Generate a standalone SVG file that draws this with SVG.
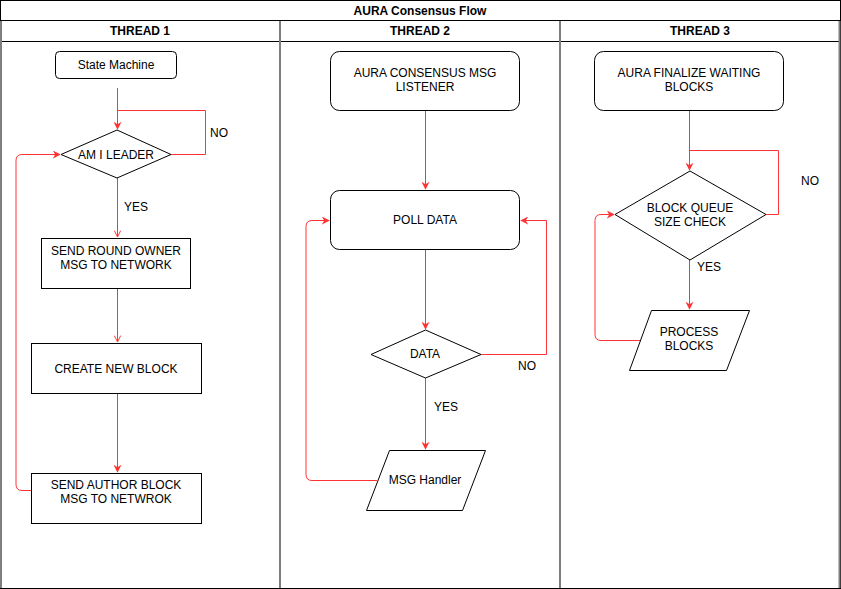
<svg xmlns="http://www.w3.org/2000/svg" width="841" height="589" viewBox="0 0 841 589">
<style>
text{font-family:"Liberation Sans",Arial,sans-serif;font-size:12px;fill:#000;text-anchor:middle;dominant-baseline:central}
.b{font-weight:bold}
.n{fill:#fff;stroke:#000;stroke-width:1}
.lane{fill:none;stroke:#000;stroke-width:1}
.sep{stroke:#7f7f7f;stroke-width:2}
.c{fill:none;stroke:#ff3333;stroke-width:1}
</style>
<defs>
<marker id="af" viewBox="0 0 10 10" refX="9" refY="5" markerWidth="8" markerHeight="8" markerUnits="userSpaceOnUse" orient="auto"><path d="M0,0 L10,5 L0,10 L3,5 Z" fill="#ff3333"/></marker>
<marker id="ao" viewBox="0 0 10 10" refX="9" refY="5" markerWidth="8" markerHeight="8" markerUnits="userSpaceOnUse" orient="auto"><path d="M1,1 L9,5 L1,9" fill="none" stroke="#ff3333" stroke-width="1.2"/></marker>
</defs>
<rect width="841" height="589" fill="#fff"/>
<g id="pool">
<rect x="0.5" y="0.5" width="840" height="588" class="lane"/>
<line x1="1" y1="20.5" x2="840" y2="20.5" stroke="#000"/>
<line x1="1" y1="41.5" x2="840" y2="41.5" stroke="#000"/>
<line x1="280" y1="21" x2="280" y2="588" class="sep"/>
<line x1="560" y1="21" x2="560" y2="588" class="sep"/>
<line x1="1" y1="21" x2="1" y2="588" class="sep"/>
<line x1="839.5" y1="21" x2="839.5" y2="588" class="sep"/>
<text x="420" y="10.5" class="b">AURA Consensus Flow</text>
<text x="140" y="31" class="b">THREAD 1</text>
<text x="420" y="31" class="b">THREAD 2</text>
<text x="700" y="31" class="b">THREAD 3</text>
</g>
<g id="connectors">
<path class="c" d="M117.5,88 V129" marker-end="url(#af)"/>
<path class="c" d="M171,154.5 H205.5 V110.5 H117.5"/>
<path class="c" d="M117.5,178 V237" marker-end="url(#ao)"/>
<path class="c" d="M117.5,289 V342" marker-end="url(#ao)"/>
<path class="c" d="M117.5,393 V472" marker-end="url(#af)"/>
<path class="c" d="M31,490.5 H22 Q16,490.5 16,484.5 V160.5 Q16,154.5 22,154.5 H60" marker-end="url(#af)"/>
<path class="c" d="M425.5,110 V189" marker-end="url(#af)"/>
<path class="c" d="M425.5,250 V329" marker-end="url(#af)"/>
<path class="c" d="M481,354.5 H546.5 V220.5 H521" marker-end="url(#af)"/>
<path class="c" d="M425.5,378 V449" marker-end="url(#af)"/>
<path class="c" d="M377,480.5 H312 Q306,480.5 306,474.5 V226.5 Q306,220.5 312,220.5 H329" marker-end="url(#af)"/>
<path class="c" d="M689.5,110 V170" marker-end="url(#af)"/>
<path class="c" d="M766,214.5 H778.5 V150.5 H689.5"/>
<path class="c" d="M689.5,260 V309" marker-end="url(#af)"/>
<path class="c" d="M640,340.5 H601 Q595,340.5 595,334.5 V220.5 Q595,214.5 601,214.5 H614" marker-end="url(#af)"/>
<text x="219" y="133">NO</text>
<text x="136" y="207">YES</text>
<text x="527" y="366">NO</text>
<text x="446" y="407">YES</text>
<text x="810" y="181">NO</text>
<text x="709" y="267">YES</text>
</g>
<g id="state-machine">
<rect x="55.5" y="51.5" width="121" height="27" rx="4" class="n"/>
<text x="116" y="65">State Machine</text>
</g>
<g id="am-i-leader">
<path d="M61,154.5 L117,130 L171,154.5 L117,178 Z" class="n"/>
<text x="116" y="154.5">AM I LEADER</text>
</g>
<g id="send-round-owner">
<rect x="41.5" y="238.5" width="149" height="50" class="n"/>
<text x="116" y="251">SEND ROUND OWNER</text>
<text x="116" y="265">MSG TO NETWORK</text>
</g>
<g id="create-new-block">
<rect x="31.5" y="343.5" width="170" height="50" class="n"/>
<text x="116" y="368.5">CREATE NEW BLOCK</text>
</g>
<g id="send-author-block">
<rect x="31.5" y="473.5" width="170" height="50" class="n"/>
<text x="116" y="485">SEND AUTHOR BLOCK</text>
<text x="116" y="499">MSG TO NETWROK</text>
</g>
<g id="msg-listener">
<rect x="330.5" y="51.5" width="189" height="59" rx="9" class="n"/>
<text x="425" y="73">AURA CONSENSUS MSG</text>
<text x="425" y="87">LISTENER</text>
</g>
<g id="poll-data">
<rect x="330.5" y="190.5" width="189" height="59" rx="9" class="n"/>
<text x="425" y="220">POLL DATA</text>
</g>
<g id="data">
<path d="M371,354.5 L425.5,330 L481,354.5 L425.5,378 Z" class="n"/>
<text x="425" y="354">DATA</text>
</g>
<g id="msg-handler">
<path d="M389.5,450.5 H485.5 L462.5,510.5 H366.5 Z" class="n"/>
<text x="425" y="480">MSG Handler</text>
</g>
<g id="finalize-waiting">
<rect x="594.5" y="51.5" width="189" height="59" rx="9" class="n"/>
<text x="689" y="73">AURA FINALIZE WAITING</text>
<text x="689" y="87">BLOCKS</text>
</g>
<g id="block-queue-check">
<path d="M615,214.5 L690,171 L766,214.5 L690,260 Z" class="n"/>
<text x="690" y="208">BLOCK QUEUE</text>
<text x="690" y="222">SIZE CHECK</text>
</g>
<g id="process-blocks">
<path d="M651.5,310.5 H749.5 L726.5,370.5 H629.5 Z" class="n"/>
<text x="689" y="332">PROCESS</text>
<text x="689" y="346">BLOCKS</text>
</g>
</svg>
